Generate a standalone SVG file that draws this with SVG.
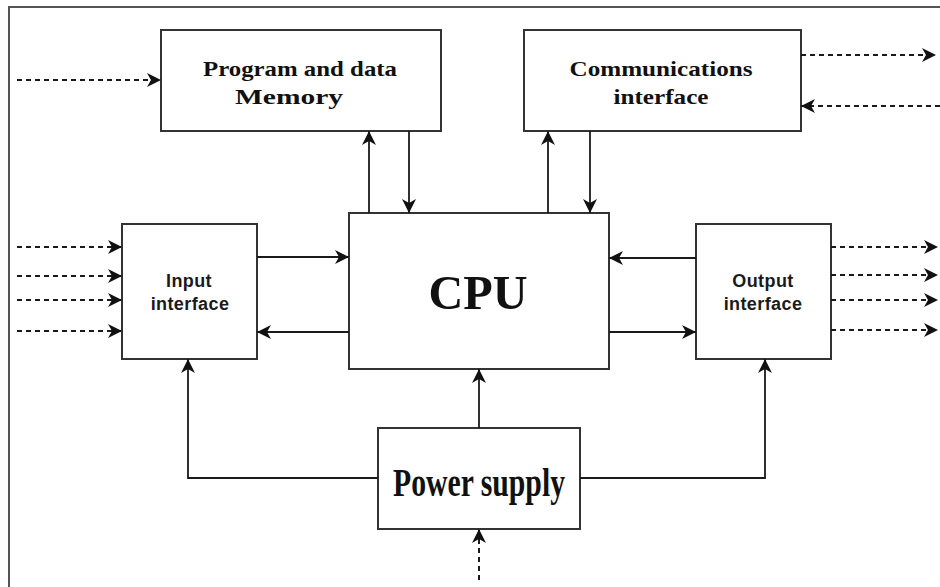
<svg xmlns="http://www.w3.org/2000/svg" width="940" height="587" viewBox="0 0 940 587">
<style>
.box{fill:#fff;stroke:#333;stroke-width:2}
.ln{fill:none;stroke:#1a1a1a;stroke-width:1.8}
.dash{fill:none;stroke:#1a1a1a;stroke-width:2;stroke-dasharray:5 4}
.serif{font-family:"Liberation Serif","Times New Roman",serif;font-weight:bold;fill:#111;text-anchor:middle}
.sans{font-family:"Liberation Sans",Arial,sans-serif;font-weight:bold;fill:#1a1a1a;text-anchor:middle;font-size:18px;letter-spacing:0.4px}
</style>
<defs>
<marker id="ah" markerUnits="userSpaceOnUse" markerWidth="15" markerHeight="14" refX="14" refY="7" orient="auto">
<path d="M0,0 L14,7 L0,14 L4,7 z" fill="#111"/>
</marker>
</defs>
<rect width="940" height="587" fill="#fff"/>
<path d="M9,587 V7 H940" fill="none" stroke="#555" stroke-width="2"/>

<g id="memory">
<rect class="box" x="161" y="30" width="280" height="101"/>
<text class="serif" x="300" y="76" font-size="22" textLength="194" lengthAdjust="spacingAndGlyphs">Program and data</text>
<text class="serif" x="289" y="104" font-size="22" textLength="108" lengthAdjust="spacingAndGlyphs">Memory</text>
</g>
<g id="comms">
<rect class="box" x="524" y="30" width="277" height="101"/>
<text class="serif" x="661" y="76" font-size="22" textLength="183" lengthAdjust="spacingAndGlyphs">Communications</text>
<text class="serif" x="661" y="104" font-size="22" textLength="95" lengthAdjust="spacingAndGlyphs">interface</text>
</g>
<g id="input">
<rect class="box" x="122" y="224" width="135" height="135"/>
<text class="sans" x="189" y="287">Input</text>
<text class="sans" x="190" y="310">interface</text>
</g>
<g id="cpu">
<rect class="box" x="349" y="213" width="260" height="156"/>
<text class="serif" x="478" y="309" font-size="49" textLength="99" lengthAdjust="spacingAndGlyphs">CPU</text>
</g>
<g id="output">
<rect class="box" x="696" y="224" width="135" height="135"/>
<text class="sans" x="763" y="287">Output</text>
<text class="sans" x="763" y="310">interface</text>
</g>
<g id="power">
<rect class="box" x="378" y="428" width="202" height="101"/>
<text class="serif" x="479" y="496" font-size="41" textLength="172" lengthAdjust="spacingAndGlyphs">Power supply</text>
</g>

<g id="connectors">
<path class="ln" d="M369,213 V131" marker-end="url(#ah)"/>
<path class="ln" d="M409,131 V213" marker-end="url(#ah)"/>
<path class="ln" d="M548,213 V131" marker-end="url(#ah)"/>
<path class="ln" d="M590,131 V213" marker-end="url(#ah)"/>
<path class="ln" d="M257,257 H349" marker-end="url(#ah)"/>
<path class="ln" d="M349,332 H257" marker-end="url(#ah)"/>
<path class="ln" d="M696,258 H609" marker-end="url(#ah)"/>
<path class="ln" d="M609,332 H696" marker-end="url(#ah)"/>
<path class="ln" d="M479,428 V369" marker-end="url(#ah)"/>
<path class="ln" d="M378,478 H188 V359" marker-end="url(#ah)"/>
<path class="ln" d="M580,478 H765 V359" marker-end="url(#ah)"/>
<path class="dash" d="M479,580 V529" marker-end="url(#ah)"/>
<path class="dash" d="M17,80 H161" marker-end="url(#ah)"/>
<path class="dash" d="M801,55 H936" marker-end="url(#ah)"/>
<path class="dash" d="M940,106 H801" marker-end="url(#ah)"/>
<path class="dash" d="M17,247 H122" marker-end="url(#ah)"/>
<path class="dash" d="M17,276 H122" marker-end="url(#ah)"/>
<path class="dash" d="M17,300 H122" marker-end="url(#ah)"/>
<path class="dash" d="M17,331 H122" marker-end="url(#ah)"/>
<path class="dash" d="M831,247 H938" marker-end="url(#ah)"/>
<path class="dash" d="M831,275 H938" marker-end="url(#ah)"/>
<path class="dash" d="M831,300 H938" marker-end="url(#ah)"/>
<path class="dash" d="M831,330 H938" marker-end="url(#ah)"/>
</g>
</svg>
